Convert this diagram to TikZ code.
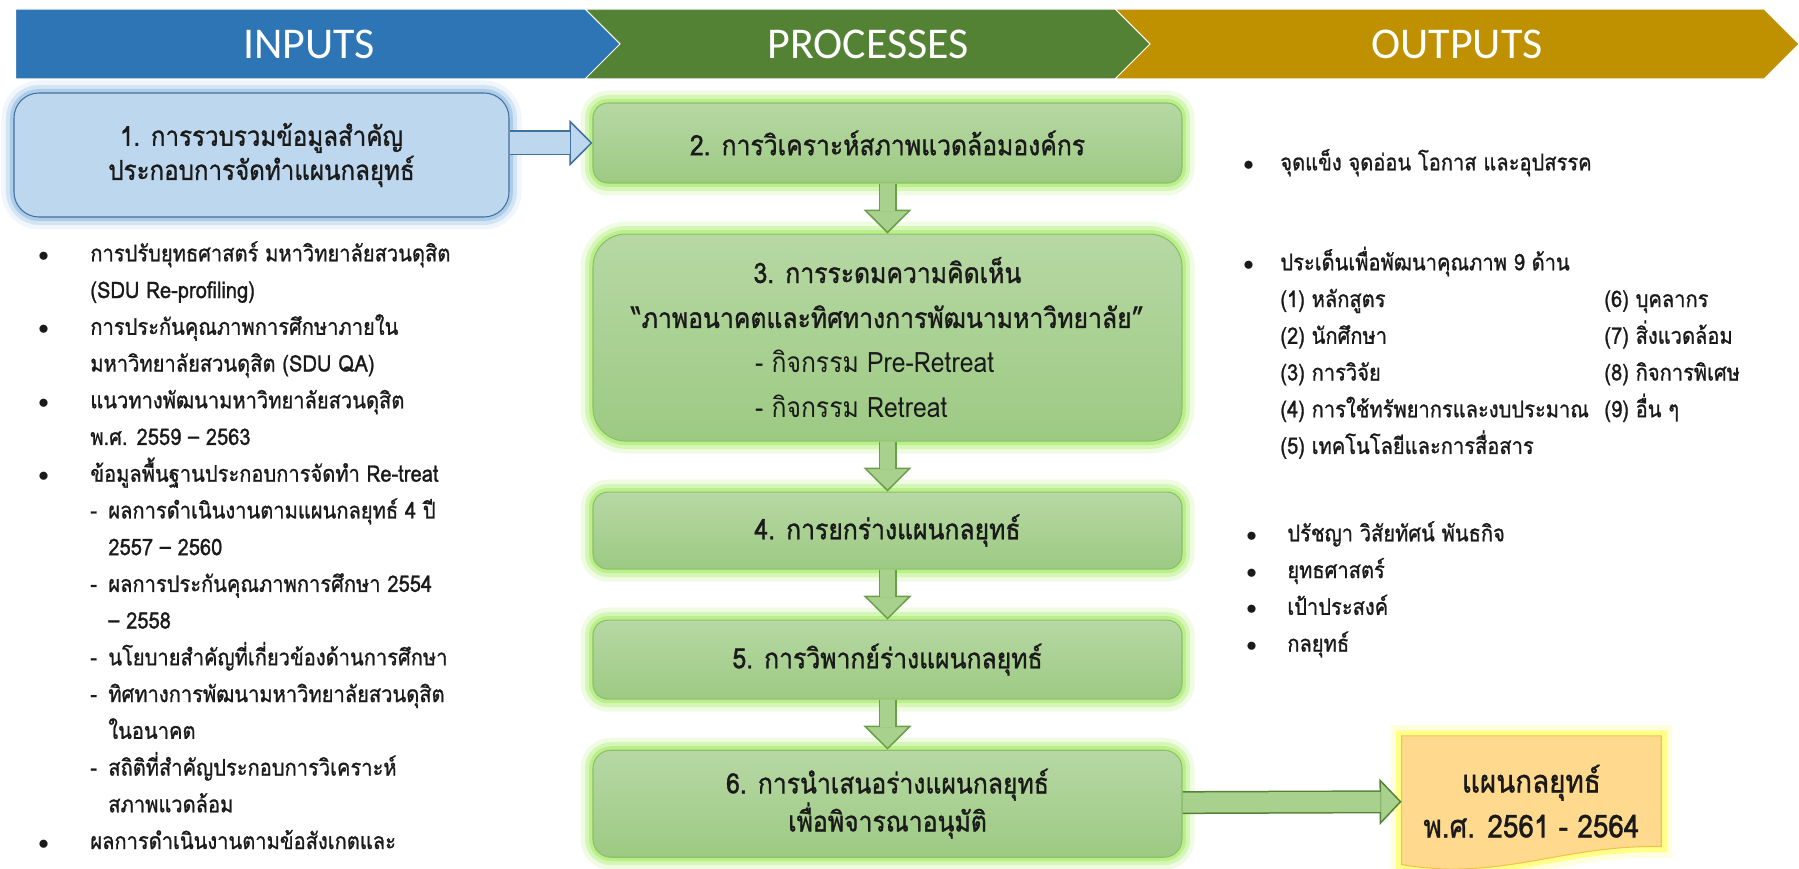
\documentclass[tikz,border=0pt]{standalone}
\usepackage{fontspec}
\setmainfont[Script=Thai, FakeStretch=0.88]{Loma}
\newfontfamily\listfont[Script=Thai, FakeStretch=0.88, FakeBold=1]{Loma}
\newfontfamily\titlefont[Script=Thai, FakeStretch=0.88, FakeBold=1.1]{Loma}
\newfontfamily\headfont{Carlito}
\usepackage{tikz}
\usetikzlibrary{positioning,arrows.meta,shapes.symbols,calc,backgrounds}

\definecolor{inblue}{HTML}{2E75B6}
\definecolor{procgreen}{HTML}{548235}
\definecolor{outgold}{HTML}{BF9000}
\definecolor{boxblue}{HTML}{BDD7EE}
\definecolor{edgeblue}{HTML}{41719C}
\definecolor{glowblue}{HTML}{9DC3E6}
\definecolor{greentop}{HTML}{B7D8A4}
\definecolor{greenbot}{HTML}{9DCA83}
\definecolor{edgegreen}{HTML}{8CBF6A}
\definecolor{glowgreen}{HTML}{B2EE7A}
\definecolor{arrowgreen}{HTML}{A9D18E}
\definecolor{arrowedge}{HTML}{6A9E48}
\definecolor{docfill}{HTML}{FFD98E}
\definecolor{docedge}{HTML}{F4C04E}
\definecolor{glowyellow}{HTML}{FFFF66}
\definecolor{inktext}{HTML}{1A1A1A}

\newcommand{\liststrut}{\rule{0pt}{5mm}}
\newcommand{\bul}[1]{\makebox[#1][l]{$\bullet$}}

\begin{document}
\begin{tikzpicture}[
    x=0.2mm, y=-0.2mm,
    node distance=1cm,
    header/.style={signal, signal to=east, signal pointer angle=90, draw=white, line width=0.6pt, minimum height=14mm, inner sep=0pt, text=white, font=\headfont\fontsize{25}{28}\selectfont},
    inbox/.style={draw=edgeblue, line width=0.6pt, fill=boxblue, rounded corners=5mm, align=center, text=inktext, minimum width=99mm, minimum height=24.8mm,
      preaction={draw=glowblue!50, line width=5mm, draw opacity=0.3},
      preaction={draw=glowblue!80, line width=3.2mm, draw opacity=0.45},
      preaction={draw=glowblue, line width=1.6mm, draw opacity=0.7}},
    stepbox/.style={draw=edgegreen, line width=0.6pt, top color=greentop, bottom color=greenbot, rounded corners=3mm, align=center, text=inktext, minimum width=117.8mm,
      preaction={draw=glowgreen!60, line width=5mm, draw opacity=0.35},
      preaction={draw=glowgreen!85, line width=3.2mm, draw opacity=0.5},
      preaction={draw=glowgreen, line width=1.6mm, draw opacity=0.75}},
    plantext/.style={align=center, text=inktext, inner sep=0pt, minimum width=51.8mm, minimum height=26mm},
    planshape/.style={draw=docedge, line width=0.6pt, fill=docfill,
      preaction={draw=glowyellow!60, line width=4.4mm, draw opacity=0.35},
      preaction={draw=glowyellow, line width=2.2mm, draw opacity=0.7}},
    listtext/.style={anchor=north west, inner sep=0pt, align=left, text=inktext, font=\listfont\fontsize{13}{20.9}\selectfont},
    downarrow/.style={line width=3.6mm, draw=arrowedge, -{Triangle[length=4.8mm, width=9.6mm, fill=arrowgreen, line width=0.3mm]},
      postaction={draw=arrowgreen, line width=3.0mm, arrows=-, shorten >=4.6mm}},
    inarrow/.style={line width=5mm, draw=edgeblue, -{Triangle[length=4.6mm, width=9.2mm, fill=boxblue, line width=0.3mm]},
      postaction={draw=boxblue, line width=4.4mm, arrows=-, shorten >=4.4mm}},
    outarrow/.style={line width=4.6mm, draw=procgreen, -{Triangle[length=4.4mm, width=9.2mm, fill=arrowgreen, line width=0.3mm]},
      postaction={draw=arrowgreen, line width=4.0mm, arrows=-, shorten >=4.2mm}}
  ]
    \useasboundingbox (0,0) rectangle (1799,869);

    % header
    \node[header, fill=inblue, minimum width=124.4mm] (inputs) at (309,44) {INPUTS};
    \node[header, fill=procgreen, signal from=west, minimum width=113.2mm] (processes) at (868,44) {PROCESSES};
    \node[header, fill=outgold, signal from=west, minimum width=136.8mm] (outputs) at (1457,44) {OUTPUTS};

    % inputs
    \node[inbox, font=\listfont\fontsize{15.6}{19.4}\selectfont] (collect) at (261.5,155) {1. การรวบรวมข้อมูลสำคัญ\\ประกอบการจัดทำแผนกลยุทธ์};
    \node[listtext] (inlist) at (38,236) {\liststrut\bul{10.4mm}การปรับยุทธศาสตร์ มหาวิทยาลัยสวนดุสิต\\
      \hspace*{10.4mm}(SDU Re-profiling)\\
      \bul{10.4mm}การประกันคุณภาพการศึกษาภายใน\\
      \hspace*{10.4mm}มหาวิทยาลัยสวนดุสิต (SDU QA)\\
      \bul{10.4mm}แนวทางพัฒนามหาวิทยาลัยสวนดุสิต\\
      \hspace*{10.4mm}พ.ศ. 2559 – 2563\\
      \bul{10.4mm}ข้อมูลพื้นฐานประกอบการจัดทำ Re-treat\\
      \hspace*{10.4mm}\makebox[3.6mm][l]{-}ผลการดำเนินงานตามแผนกลยุทธ์ 4 ปี\\
      \hspace*{14mm}2557 – 2560\\
      \hspace*{10.4mm}\makebox[3.6mm][l]{-}ผลการประกันคุณภาพการศึกษา 2554\\
      \hspace*{14mm}– 2558\\
      \hspace*{10.4mm}\makebox[3.6mm][l]{-}นโยบายสำคัญที่เกี่ยวข้องด้านการศึกษา\\
      \hspace*{10.4mm}\makebox[3.6mm][l]{-}ทิศทางการพัฒนามหาวิทยาลัยสวนดุสิต\\
      \hspace*{14mm}ในอนาคต\\
      \hspace*{10.4mm}\makebox[3.6mm][l]{-}สถิติที่สำคัญประกอบการวิเคราะห์\\
      \hspace*{14mm}สภาพแวดล้อม\\
      \bul{10.4mm}ผลการดำเนินงานตามข้อสังเกตและ};

    % processes
    \node[stepbox, minimum height=16mm, font=\titlefont\fontsize{16}{23}\selectfont] (analyse) at (887.5,143) {2. การวิเคราะห์สภาพแวดล้อมองค์กร};
    \node[stepbox, below=of analyse, minimum height=41.4mm, rounded corners=6.6mm, font=\titlefont\fontsize{16}{25.6}\selectfont] (retreat) {3. การระดมความคิดเห็น\\“ภาพอนาคตและทิศทางการพัฒนามหาวิทยาลัย”\\\makebox[53mm][l]{\normalfont- กิจกรรม Pre-Retreat}\\\makebox[53mm][l]{\normalfont- กิจกรรม Retreat}};
    \node[stepbox, below=of retreat, minimum height=15.4mm, font=\titlefont\fontsize{16}{23}\selectfont] (draft) {4. การยกร่างแผนกลยุทธ์};
    \node[stepbox, below=of draft, minimum height=15.8mm, font=\titlefont\fontsize{16}{23}\selectfont] (review) {5. การวิพากย์ร่างแผนกลยุทธ์};
    \node[stepbox, below=of review, minimum height=21.4mm, rounded corners=3.6mm, font=\titlefont\fontsize{16}{20}\selectfont] (present) {6. การนำเสนอร่างแผนกลยุทธ์\\เพื่อพิจารณาอนุมัติ};

    % outputs
    \node[plantext, right=43.8mm of present, yshift=0.5mm, font=\titlefont\fontsize{18}{25.6}\selectfont] (plan) {แผนกลยุทธ์\\พ.ศ. 2561 - 2564};
    \begin{scope}[on background layer]
      \path[planshape] (plan.north west) -- (plan.north east) -- ($(plan.south east)+(0,-20)$)
        .. controls ($(plan.south east)+(-100,-22)$) and ($(plan.south west)+(99,15)$) .. ($(plan.south west)+(0,-2)$) -- cycle;
    \end{scope}
    \node[listtext] (swot) at (1243,145) {\liststrut\bul{7.4mm}จุดแข็ง จุดอ่อน โอกาส และอุปสรรค};
    \node[listtext] (issues) at (1243,245) {\liststrut\bul{7.4mm}ประเด็นเพื่อพัฒนาคุณภาพ 9 ด้าน\\
      \hspace*{7.4mm}(1) หลักสูตร\\
      \hspace*{7.4mm}(2) นักศึกษา\\
      \hspace*{7.4mm}(3) การวิจัย\\
      \hspace*{7.4mm}(4) การใช้ทรัพยากรและงบประมาณ\\
      \hspace*{7.4mm}(5) เทคโนโลยีและการสื่อสาร};
    \node[listtext] (issuesb) at (1604,281.7) {\liststrut(6) บุคลากร\\
      (7) สิ่งแวดล้อม\\
      (8) กิจการพิเศษ\\
      (9) อื่น ๆ};
    \node[listtext] (vision) at (1246,516) {\liststrut\bul{8.2mm}ปรัชญา วิสัยทัศน์ พันธกิจ\\
      \bul{8.2mm}ยุทธศาสตร์\\
      \bul{8.2mm}เป้าประสงค์\\
      \bul{8.2mm}กลยุทธ์};

    \draw[inarrow] (collect.east |- analyse.west) -- (analyse.west);
    \draw[downarrow] (analyse) -- (retreat);
    \draw[downarrow] (retreat) -- (draft);
    \draw[downarrow] (draft) -- (review);
    \draw[downarrow] (review) -- (present);
    \draw[outarrow] (present) -- (plan);
  \end{tikzpicture}
\end{document}
